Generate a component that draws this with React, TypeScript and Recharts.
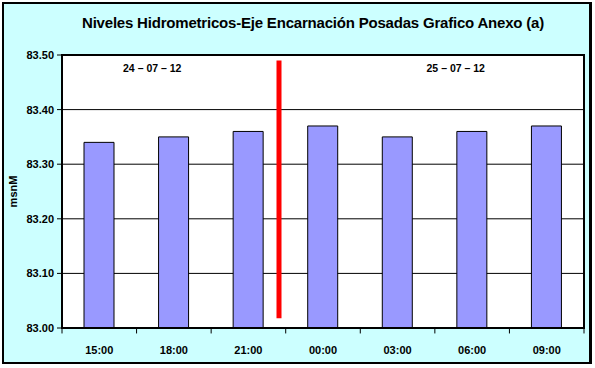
import { ComposedChart, Bar, XAxis, YAxis, CartesianGrid, ReferenceLine, ReferenceArea, ReferenceDot } from 'recharts'

const HOURS = ['15:00', '18:00', '21:00', '00:00', '03:00', '06:00', '09:00']
const LEVELS = [83.34, 83.35, 83.36, 83.37, 83.35, 83.36, 83.37]
const Y_TICKS = [83.0, 83.1, 83.2, 83.3, 83.4, 83.5]
const BAND_EDGES = [0, 1, 2, 3, 4, 5, 6, 7]
const DATE_LABELS = [
    { x: 1.21, y: 83.476, text: '24 – 07 – 12' },
    { x: 5.28, y: 83.476, text: '25 – 07 – 12' }
]
const DAY_CHANGE = { x: 2.91, y0: 83.018, y1: 83.49 }

const FONT = 'Arial, "Liberation Sans", sans-serif'

export default function App() {
    // bars sit in the middle of each hour slot on a 0..7 scale
    const data = HOURS.map((h, i) => ({ hour: h, slot: i + 0.5, level: LEVELS[i] }))
    const slotTicks = data.map(d => d.slot)

    return (
        <div style={{ position: 'absolute', left: 0, top: 0, width: 595, height: 368 }}>
            <div style={{
                position: 'absolute', left: 2, top: 2, width: 585, height: 358,
                border: '2px solid #000', borderRightWidth: 3, background: '#CCFFFF', boxSizing: 'content-box'
            }} />
            <div style={{
                position: 'absolute', left: 82, top: 14, whiteSpace: 'nowrap', lineHeight: '17px',
                fontFamily: FONT, fontSize: 15, fontWeight: 'bold', letterSpacing: -0.2, color: '#000'
            }}>
                Niveles Hidrometricos-Eje Encarnación Posadas Grafico Anexo (a)
            </div>
            <div style={{ position: 'absolute', left: 0, top: 0 }}>
                <ComposedChart
                    width={595}
                    height={368}
                    data={data}
                    margin={{ top: 55, right: 11, bottom: 0, left: 10 }}
                    barSize={30}
                >
                    <CartesianGrid vertical={false} stroke="#000" fill="#fff" />
                    <XAxis
                        dataKey="slot"
                        type="number"
                        domain={[0, 7]}
                        allowDataOverflow
                        ticks={slotTicks}
                        tickFormatter={(v: number) => HOURS[Math.floor(v)]}
                        height={40}
                        axisLine={{ stroke: '#000', strokeWidth: 2 }}
                        tickLine={false}
                        tickMargin={12}
                        tick={{ fontSize: 11, fontWeight: 'bold', fill: '#000', fontFamily: FONT }}
                    />
                    <YAxis
                        width={52}
                        domain={[83, 83.5]}
                        ticks={Y_TICKS}
                        tickFormatter={(v: number) => v.toFixed(2)}
                        axisLine={{ stroke: '#000', strokeWidth: 2 }}
                        tickLine={{ stroke: '#000' }}
                        tickSize={5}
                        tickMargin={3}
                        tick={{ fontSize: 11, fontWeight: 'bold', fill: '#000', fontFamily: FONT }}
                        label={{
                            value: 'msnM', angle: -90, position: 'insideLeft', offset: 3,
                            style: { fontSize: 11, fontWeight: 'bold', fill: '#000', fontFamily: FONT, textAnchor: 'middle' }
                        }}
                    />
                    <Bar dataKey="level" fill="#9999FF" stroke="#000" strokeWidth={1} isAnimationActive={false} />
                    <ReferenceArea x1={0} x2={7} y1={83} y2={83.5} fill="none" stroke="#000" strokeWidth={2} />
                    {BAND_EDGES.map(e => (
                        <ReferenceLine
                            key={e}
                            segment={[{ x: e, y: 83 }, { x: e, y: 82.99 }]}
                            stroke="#000"
                            ifOverflow="visible"
                        />
                    ))}
                    <ReferenceLine
                        segment={[{ x: DAY_CHANGE.x, y: DAY_CHANGE.y0 }, { x: DAY_CHANGE.x, y: DAY_CHANGE.y1 }]}
                        stroke="#FF0000"
                        strokeWidth={5}
                    />
                    {DATE_LABELS.map(d => (
                        <ReferenceDot
                            key={d.text}
                            x={d.x}
                            y={d.y}
                            r={0}
                            stroke="none"
                            label={{
                                value: d.text, position: 'center',
                                style: { fontSize: 10.5, fontWeight: 'bold', fill: '#000', fontFamily: FONT }
                            }}
                        />
                    ))}
                </ComposedChart>
            </div>
        </div>
    )
}
